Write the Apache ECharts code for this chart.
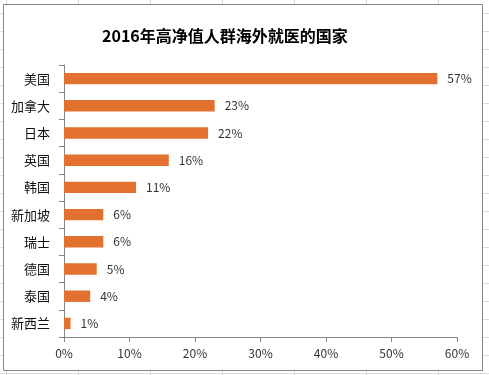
<!DOCTYPE html>
<html>
<head>
<meta charset="utf-8">
<script src="https://cdn.jsdelivr.net/npm/echarts@6/dist/echarts.min.js"></script>
<style>
html,body{margin:0;padding:0;}
body{
  width:489px;height:375px;overflow:hidden;background-color:#fff;
  background-image:
    linear-gradient(to right, #dcdcdc 1px, transparent 1px),
    linear-gradient(to bottom, #dcdcdc 1px, transparent 1px);
  background-size:72px 18px;
  background-position:6px 13px;
}
#chart{width:489px;height:375px;}
</style>
</head>
<body>
<div id="chart"></div>
<script>
const titleText = '2016年高净值人群海外就医的国家';
const categories = ['美国','加拿大','日本','英国','韩国','新加坡','瑞士','德国','泰国','新西兰'];
const values = [57, 23, 22, 16, 11, 6, 6, 5, 4, 1];
const xTicks = [0, 10, 20, 30, 40, 50, 60];

const chart = echarts.init(document.getElementById('chart'), null, {renderer:'canvas'});
const font = '"Noto Sans CJK SC", "Noto Sans", sans-serif';
chart.setOption({
  backgroundColor:'transparent',
  animation:false,
  graphic:[{
    type:'rect', z:-10, silent:true,
    shape:{x:3.5, y:4.5, width:479, height:366},
    style:{fill:'#fff', stroke:'#868686', lineWidth:1}
  }],
  title:{
    text:titleText, left:97, top:23,
    textStyle:{fontSize:16, fontWeight:'bold', color:'#000', fontFamily:font}
  },
  grid:{left:64, right:32, top:65, bottom:38, containLabel:false},
  xAxis:{
    type:'value', min:xTicks[0], max:xTicks[xTicks.length-1], interval:10,
    axisLine:{show:true, lineStyle:{color:'#868686'}},
    axisTick:{show:true, length:5, lineStyle:{color:'#868686'}},
    splitLine:{show:false},
    axisLabel:{formatter:'{value}%', color:'#333', fontSize:12, margin:10, fontFamily:font}
  },
  yAxis:{
    type:'category', data:categories, inverse:true,
    axisLine:{show:true, lineStyle:{color:'#868686'}},
    axisTick:{show:true, length:5, lineStyle:{color:'#868686'}},
    axisLabel:{color:'#111', fontSize:13, margin:14, fontFamily:font}
  },
  series:[{
    type:'bar', data:values, barWidth:'42%',
    itemStyle:{color:'#E2702F'},
    label:{show:true, position:'right', distance:10, formatter:'{c}%', color:'#333', fontSize:12, fontFamily:font}
  }]
});
</script>
</body>
</html>
